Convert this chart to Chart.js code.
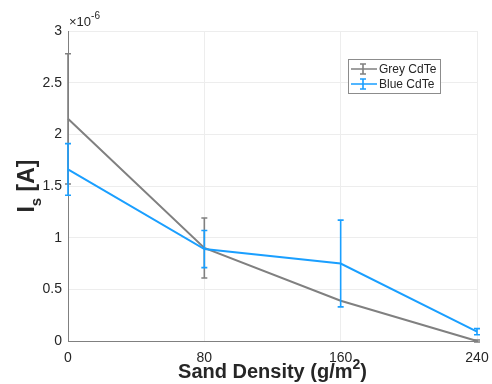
<!DOCTYPE html>
<html>
<head>
<meta charset="utf-8">
<script src="https://cdn.jsdelivr.net/npm/chart.js@4.4.1/dist/chart.umd.min.js"></script>
<style>
    html, body { margin: 0; padding: 0; background: #fff; }
    canvas { display: block; }
</style>
</head>
<body>
<canvas id="sandChart" width="492" height="384"></canvas>
<script>
// Sand density on the panel (g/m^2)
const sandDensity = [0, 80, 160, 240];
// Short-circuit current, in units of 1e-6 A, with +/- error
const greyCurrent = [2.15, 0.9, 0.39, 0];
const greyError = [0.63, 0.29, 0, 0.01];
const blueCurrent = [1.66, 0.89, 0.75, 0.09];
const blueError = [0.25, 0.18, 0.42, 0.03];
const xTicks = [0, 80, 160, 240];
const yTicks = [0, 0.5, 1, 1.5, 2, 2.5, 3];

const GREY = '#808080';
const BLUE = '#1a9fff';
const TEXT = '#262626';
const FONT = '"Liberation Sans", Arial, Helvetica, sans-serif';

function toPoints(xs, ys) {
    return xs.map((x, i) => ({ x: x, y: ys[i] }));
}

// Vertical error bars with caps, drawn right after each dataset's line
const errorBars = {
    id: 'errorBars',
    afterDatasetDraw(chart, args) {
        const ds = chart.data.datasets[args.index];
        if (!ds.errors) return;
        const ctx = chart.ctx;
        const xs = chart.scales.x;
        const ys = chart.scales.y;
        ctx.save();
        ctx.strokeStyle = ds.borderColor;
        ctx.lineWidth = 1.6;
        ds.data.forEach((p, i) => {
            const e = ds.errors[i];
            if (!e) return;
            const px = xs.getPixelForValue(p.x);
            const top = ys.getPixelForValue(p.y + e);
            const bot = ys.getPixelForValue(p.y - e);
            ctx.beginPath();
            ctx.moveTo(px, top);
            ctx.lineTo(px, bot);
            ctx.moveTo(px - 3, top);
            ctx.lineTo(px + 3, top);
            ctx.moveTo(px - 3, bot);
            ctx.lineTo(px + 3, bot);
            ctx.stroke();
        });
        ctx.restore();
    }
};

// Axis titles, exponent note and the legend box
const annotations = {
    id: 'annotations',
    afterDraw(chart) {
        const ctx = chart.ctx;
        const area = chart.chartArea;
        ctx.save();
        ctx.fillStyle = TEXT;
        ctx.textBaseline = 'alphabetic';

        // exponent above the y axis
        ctx.textAlign = 'left';
        ctx.font = '13px ' + FONT;
        ctx.fillText('\u00d710', area.left + 1, area.top - 5);
        const w10 = ctx.measureText('\u00d710').width;
        ctx.font = '10px ' + FONT;
        ctx.fillText('-6', area.left + 1 + w10, area.top - 12);

        // x axis title with superscript
        const bold = 'bold 20px ' + FONT;
        const boldSup = 'bold 14px ' + FONT;
        ctx.font = bold;
        const a = 'Sand Density (g/m';
        const wa = ctx.measureText(a).width;
        const wc = ctx.measureText(')').width;
        ctx.font = boldSup;
        const wb = ctx.measureText('2').width;
        let x = (area.left + area.right) / 2 - (wa + wb + wc) / 2;
        const base = 378;
        ctx.font = bold;
        ctx.fillText(a, x, base);
        ctx.font = boldSup;
        ctx.fillText('2', x + wa, base - 9);
        ctx.font = bold;
        ctx.fillText(')', x + wa + wb, base);

        // y axis title with subscript, rotated
        ctx.translate(34, (area.top + area.bottom) / 2);
        ctx.rotate(-Math.PI / 2);
        const yFont = 'bold 23px ' + FONT;
        const ySub = 'bold 15px ' + FONT;
        ctx.font = yFont;
        const wI = ctx.measureText('I').width;
        const wA = ctx.measureText(' [A]').width;
        ctx.font = ySub;
        const ws = ctx.measureText('s').width;
        x = -(wI + ws + wA) / 2;
        ctx.font = yFont;
        ctx.fillText('I', x, 0);
        ctx.font = ySub;
        ctx.fillText('s', x + wI, 7);
        ctx.font = yFont;
        ctx.fillText(' [A]', x + wI + ws, 0);
        ctx.setTransform(1, 0, 0, 1, 0, 0);

        // legend
        const lx = 348, ly = 59, lw = 92, lh = 34;
        ctx.fillStyle = '#fff';
        ctx.fillRect(lx, ly, lw, lh);
        ctx.strokeStyle = '#8c8c8c';
        ctx.lineWidth = 1;
        ctx.strokeRect(lx + 0.5, ly + 0.5, lw, lh);
        const rows = [
            { label: 'Grey CdTe', color: GREY, y: 69 },
            { label: 'Blue CdTe', color: BLUE, y: 84 }
        ];
        ctx.font = '12px ' + FONT;
        ctx.textBaseline = 'middle';
        rows.forEach(r => {
            ctx.strokeStyle = r.color;
            ctx.lineWidth = 1.6;
            ctx.beginPath();
            ctx.moveTo(351, r.y);
            ctx.lineTo(377, r.y);
            ctx.moveTo(363, r.y - 5);
            ctx.lineTo(363, r.y + 5);
            ctx.moveTo(360, r.y - 5);
            ctx.lineTo(366, r.y - 5);
            ctx.moveTo(360, r.y + 5);
            ctx.lineTo(366, r.y + 5);
            ctx.stroke();
            ctx.fillStyle = TEXT;
            ctx.fillText(r.label, 379, r.y + 1);
        });
        ctx.restore();
    }
};

new Chart(document.getElementById('sandChart'), {
    type: 'line',
    data: {
        datasets: [
            {
                label: 'Grey CdTe',
                data: toPoints(sandDensity, greyCurrent),
                errors: greyError,
                borderColor: GREY,
                borderWidth: 2,
                pointRadius: 0,
                tension: 0,
                clip: false,
                order: 1
            },
            {
                label: 'Blue CdTe',
                data: toPoints(sandDensity, blueCurrent),
                errors: blueError,
                borderColor: BLUE,
                borderWidth: 2,
                pointRadius: 0,
                tension: 0,
                clip: false,
                order: 0
            }
        ]
    },
    options: {
        responsive: false,
        animation: false,
        layout: { padding: { top: 31, right: 15, left: 0, bottom: 0 } },
        plugins: {
            legend: { display: false },
            tooltip: { enabled: false }
        },
        scales: {
            x: {
                type: 'linear',
                min: 0,
                max: 240,
                afterBuildTicks: axis => { axis.ticks = xTicks.map(v => ({ value: v })); },
                afterFit: axis => {
                    axis.height = 43;
                    // let the layout padding alone decide the right edge
                    axis.paddingRight = 0;
                    axis.paddingLeft = 0;
                },
                ticks: { color: TEXT, font: { size: 14, family: FONT }, padding: 9, maxRotation: 0 },
                grid: { color: '#ededed', drawTicks: false },
                border: { color: '#808080', width: 1 }
            },
            y: {
                min: 0,
                max: 3,
                afterBuildTicks: axis => { axis.ticks = yTicks.map(v => ({ value: v })); },
                afterFit: axis => { axis.width = 68; },
                ticks: {
                    color: TEXT,
                    font: { size: 14, family: FONT },
                    padding: 6,
                    callback: v => String(v)
                },
                grid: { color: '#ededed', drawTicks: false },
                border: { color: '#808080', width: 1 }
            }
        }
    },
    plugins: [errorBars, annotations]
});
</script>
</body>
</html>
